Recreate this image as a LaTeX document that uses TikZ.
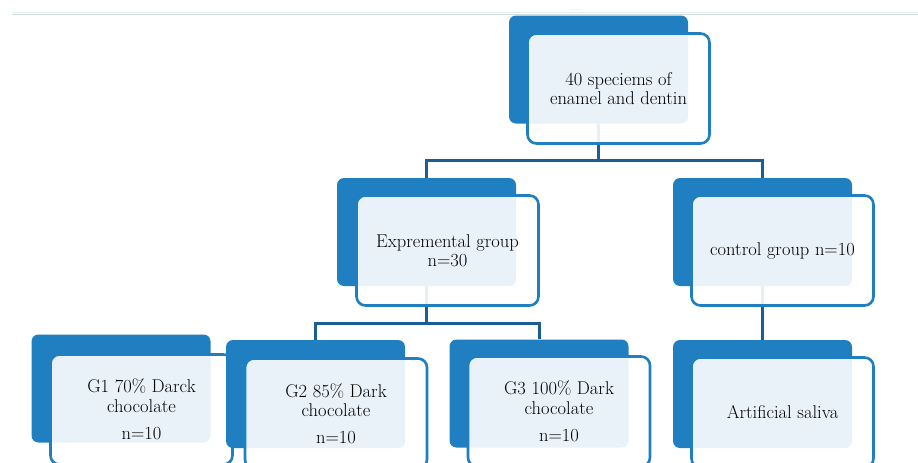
\documentclass[tikz,border=0pt]{standalone}
\usepackage{tikz}
\usetikzlibrary{positioning}
\definecolor{boxblue}{RGB}{31,127,192}
\definecolor{linkblue}{RGB}{26,94,148}
\pgfdeclarelayer{bg}
\pgfsetlayers{bg,main}

\begin{document}
\begin{tikzpicture}[x=1pt, y=-1pt, font=\fontsize{18.5}{19.5}\selectfont,
  back/.style={fill=boxblue, rounded corners=7pt, minimum width=179pt, minimum height=108pt, inner sep=0pt},
  front/.style={draw=boxblue, line width=2.6pt, fill=white, fill opacity=0.9, text opacity=1, rounded corners=9pt, minimum width=182pt, minimum height=110pt, inner sep=0pt, align=center},
  link/.style={draw=linkblue, line width=3pt}]
\useasboundingbox (0,0) rectangle (918,463);
\draw[cyan!15, line width=1.2pt] (12,12.5) -- (918,12.5);
\draw[black!15, line width=0.5pt] (12,14) -- (918,14);
\node[gray, font=\tiny, inner sep=0pt] (dots) at (576,10.5) {....};
% level 0
\node[back] (topb) at (598.5,69.5) {};
\node[front] (topf) at (618.5,88.5) {40 speciems of\\enamel and dentin};
% level 1
\node[back] (expb) at (426.5,232) {};
\node[front] (expf) at (447.5,250.5) {Expremental group\\n=30};
\node[back] (ctlb) at (762.5,232) {};
\node[front] (ctlf) at (782.5,250.5) {control group n=10};
% level 2
\node[back] (g1b) at (121,388.5) {};
\node[front] (g1f) at (141.5,409.5) {G1 70\% Darck\\chocolate\\[8pt]n=10};
\node[back] (g2b) at (315.5,394) {};
\node[front] (g2f) at (336,413.5) {G2 85\% Dark\\chocolate\\[7pt]n=10};
\node[back] (g3b) at (539,393.5) {};
\node[front] (g3f) at (559,411.5) {G3 100\% Dark\\chocolate\\[8pt]n=10};
\node[back] (salb) at (762.5,394) {};
\node[front] (salf) at (782.5,412.5) {Artificial saliva};
\begin{pgfonlayer}{bg}
\draw[link] (topb.south) -- ++(0,37) -| (expb.north);
\draw[link] (topb.south) -- ++(0,37) -| (ctlb.north);
\draw[link] (expb.south) -- ++(0,37) -| (g2b.north);
\draw[link] (expb.south) -- ++(0,37) -| (g3b.north);
\draw[link] (ctlb.south) -- (salb.north);
\end{pgfonlayer}
\end{tikzpicture}
\end{document}
